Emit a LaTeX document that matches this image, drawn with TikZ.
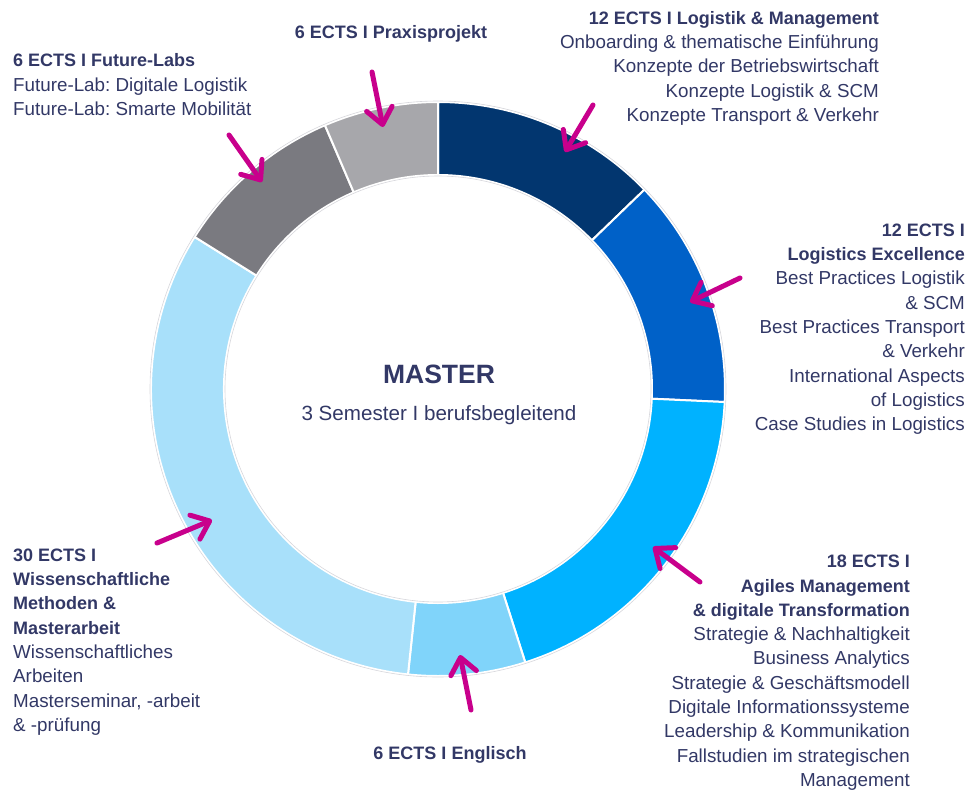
\documentclass[tikz,border=0pt]{standalone}
\usepackage{fontspec}
\setmainfont{Liberation Sans}
\usetikzlibrary{arrows.meta}
\definecolor{schrift}{RGB}{50,56,102}
\definecolor{pink}{RGB}{200,0,140}
\definecolor{segnavy}{RGB}{2,54,111}
\definecolor{segblau}{RGB}{0,97,200}
\definecolor{segcyan}{RGB}{0,178,255}
\definecolor{seghell}{RGB}{128,212,250}
\definecolor{segpastell}{RGB}{168,224,250}
\definecolor{seggrau}{RGB}{122,122,128}
\definecolor{seghellgrau}{RGB}{167,167,171}
\definecolor{randgrau}{RGB}{215,215,220}
\newcommand{\titel}[1]{{\fontsize{18}{24.3}\selectfont\bfseries #1}}

\begin{document}
\begin{tikzpicture}[x=1pt,y=1pt,
	txt/.style={text=schrift, inner sep=0pt, font=\fontsize{18.8}{24.3}\selectfont\frenchspacing},
	pfeil/.style={draw=pink, line width=5pt, line cap=round, -{Straight Barb[length=16pt,width=26pt,round]}},
	ring/.style={draw=white, line width=2pt}]
	\useasboundingbox (0,0) rectangle (971,-790);
	\begin{scope}[shift={(438,-389)}]
		\foreach \a/\b/\c in {90/44/segnavy, 44/-2.6/segblau, -2.6/-72.3/segcyan, -72.3/-96/seghell, -96/-212/segpastell, -212/-246.8/seggrau, -246.8/-270/seghellgrau}
			\filldraw[fill=\c, ring] (\a:287) arc[start angle=\a, end angle=\b, radius=287] -- (\b:214) arc[start angle=\b, end angle=\a, radius=214] -- cycle;
		\draw[randgrau, line width=0.6pt] (0,0) circle[radius=288] (0,0) circle[radius=213];
	\end{scope}

	\node[txt, anchor=base, font=\fontsize{26.5}{30}\selectfont\bfseries] (master) at (439,-383) {MASTER};
	\node[txt, anchor=base, font=\fontsize{20.6}{24}\selectfont] (semester) at (439,-420) {3 Semester I berufsbegleitend};

	\node[txt, anchor=base] (praxis) at (391,-38.3) {\titel{6 ECTS I Praxisprojekt}};
	\node[txt, anchor=north west, align=left] (future) at (13,-53.5) {\titel{6 ECTS I Future-Labs}\\Future-Lab: Digitale Logistik\\Future-Lab: Smarte Mobilität};
	\node[txt, anchor=north east, align=right] (logistik) at (879,-11) {\titel{12 ECTS I Logistik \& Management}\\Onboarding \& thematische Einführung\\Konzepte der Betriebswirtschaft\\Konzepte Logistik \& SCM\\Konzepte Transport \& Verkehr};
	\node[txt, anchor=north east, align=right] (excellence) at (965,-223.5) {\titel{12 ECTS I}\\\titel{Logistics Excellence}\\Best Practices Logistik\\\& SCM\\Best Practices Transport\\\& Verkehr\\International Aspects\\of Logistics\\Case Studies in Logistics};
	\node[txt, anchor=north east, align=right] (agil) at (910,-555) {\titel{18 ECTS I}\\\titel{Agiles Management}\\\titel{\& digitale Transformation}\\Strategie \& Nachhaltigkeit\\Business Analytics\\Strategie \& Geschäftsmodell\\Digitale Informationssysteme\\Leadership \& Kommunikation\\Fallstudien im strategischen\\Management};
	\node[txt, anchor=north west, align=left] (wiss) at (13,-548.5) {\titel{30 ECTS I}\\\titel{Wissenschaftliche}\\\titel{Methoden \&}\\\titel{Masterarbeit}\\Wissenschaftliches\\Arbeiten\\Masterseminar, -arbeit\\\& -prüfung};
	\node[txt, anchor=base] (englisch) at (450,-759) {\titel{6 ECTS I Englisch}};

	\coordinate (praxisA) at (372,-72);
	\coordinate (praxisB) at (383,-127);
	\coordinate (futureA) at (229,-135);
	\coordinate (futureB) at (262,-182);
	\coordinate (logistikA) at (593,-105);
	\coordinate (logistikB) at (565,-152);
	\coordinate (excellenceA) at (740,-278);
	\coordinate (excellenceB) at (690,-302);
	\coordinate (agilA) at (700,-582);
	\coordinate (agilB) at (653,-547);
	\coordinate (englischA) at (471,-710);
	\coordinate (englischB) at (460,-655);
	\coordinate (wissA) at (157,-543);
	\coordinate (wissB) at (212,-520);
	\foreach \p in {praxis, future, logistik, excellence, agil, englisch, wiss}
		\draw[pfeil] (\p A) -- (\p B);
\end{tikzpicture}
\end{document}
